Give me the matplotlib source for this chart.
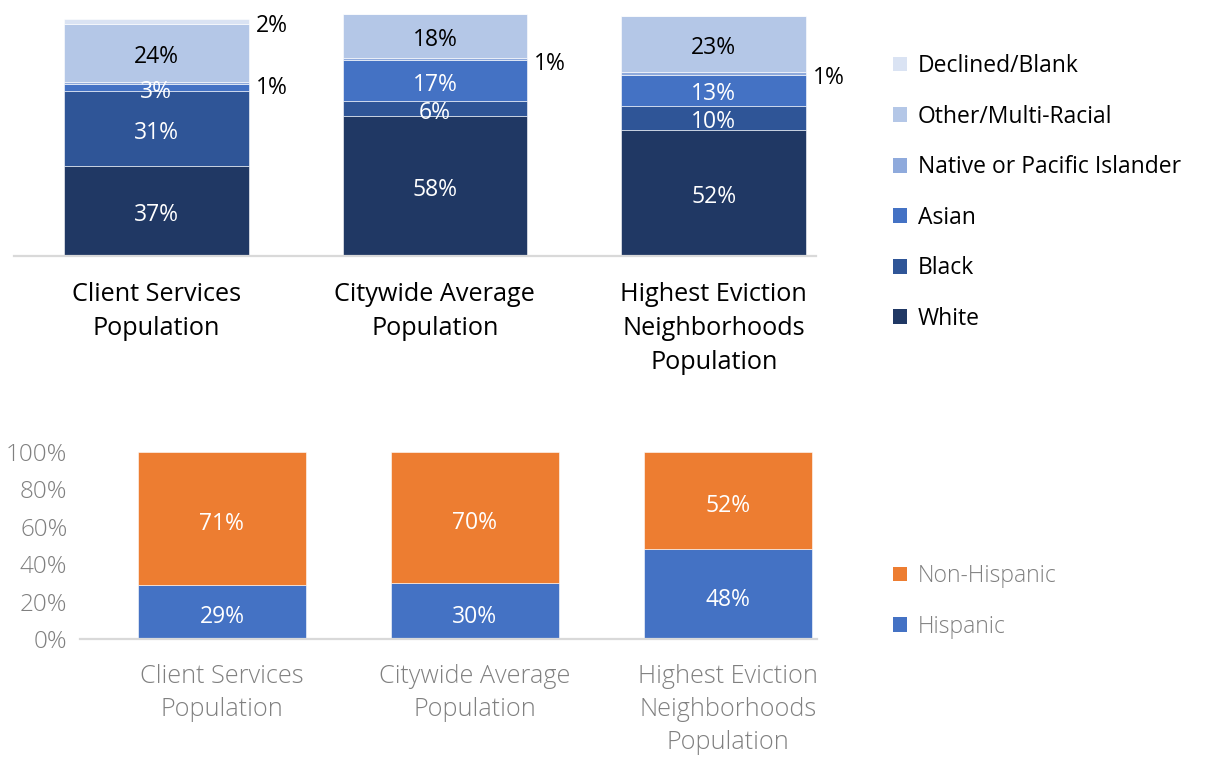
import matplotlib
matplotlib.use("Agg")
from matplotlib import pyplot as plt
from matplotlib.patches import Patch
import numpy as np

plt.rcParams['font.family'] = ['Open Sans', 'DejaVu Sans']

# categories shared by both panels
groups = ['Client Services\nPopulation', 'Citywide Average\nPopulation',
          'Highest Eviction\nNeighborhoods\nPopulation']

# race breakdown (percent), stacked bottom to top
race_names = ['White', 'Black', 'Asian', 'Native or Pacific Islander',
              'Other/Multi-Racial', 'Declined/Blank']
white = [37, 58, 52]
black = [31, 6, 10]
asian = [3, 17, 13]
native = [1, 1, 1]
other = [24, 18, 23]
declined = [2, 0, 0]

# ethnicity breakdown (percent)
eth_names = ['Hispanic', 'Non-Hispanic']
hispanic = [29, 30, 48]
non_hispanic = [71, 70, 52]

race_cols = ['#203864', '#2F5597', '#4472C4', '#8FAADC', '#B4C7E7', '#DAE3F3']
# label colour per series; None -> label sits outside the bar on the right
race_txt = ['white', 'white', 'white', None, 'black', None]
eth_cols = ['#4472C4', '#ED7D31']

W, H = 1211, 757
fig = plt.figure(figsize=(W / 100, H / 100), dpi=100)

x = np.arange(len(groups))
fs = 16.5      # data labels and legend
fs_cat = 18.2  # category labels
fs_tick = 17.5
grey = '#808080'


def label(ax, xv, yv, txt, color, ha='center', dx=0, dy=-3):
    ax.annotate(txt, (xv, yv), xytext=(dx, dy), textcoords='offset points',
                ha=ha, va='center', fontsize=fs, color=color)


# ---- top panel: race ----
ax1 = fig.add_axes([14 / W, 1 - 256 / H, (816 - 14) / W, (256 - 14) / H])
bw1 = 0.663
bottom = np.zeros(len(groups))
series = [white, black, asian, native, other, declined]
for vals, col, tc in zip(series, race_cols, race_txt):
    vals = np.array(vals, dtype=float)
    ax1.bar(x, vals, bw1, bottom=bottom, color=col, edgecolor='white', linewidth=0.4)
    for i, v in enumerate(vals):
        if v <= 0:
            continue
        yc = bottom[i] + v / 2
        if tc is None:
            label(ax1, x[i] + bw1 / 2, yc, f'{v:.0f}%', 'black', ha='left', dx=5, dy=-3.5)
        else:
            label(ax1, x[i], yc, f'{v:.0f}%', tc)
    bottom += vals

ax1.set_xlim(-0.51, 2.367)
ax1.set_ylim(0, 100)
ax1.set_yticks([])
ax1.set_xticks(x)
ax1.set_xticklabels(groups, fontsize=fs_cat, color='black', linespacing=1.47)
ax1.tick_params(axis='x', length=0, pad=19)
for s in ['top', 'right', 'left']:
    ax1.spines[s].set_visible(False)
ax1.spines['bottom'].set_color('#d9d9d9')
ax1.spines['bottom'].set_linewidth(1.6)

h1 = [Patch(facecolor=c) for c in race_cols][::-1]
fig.legend(h1, race_names[::-1], loc='upper left', bbox_to_anchor=(893 / W, 1 - 54 / H),
           frameon=False, fontsize=fs, handlelength=0.62, handleheight=0.62,
           handletextpad=0.45, labelspacing=1.16, borderpad=0, borderaxespad=0)

# ---- bottom panel: ethnicity ----
ax2 = fig.add_axes([80 / W, 1 - 639 / H, (817 - 80) / W, (639 - 452) / H])
bw2 = 0.664
bottom = np.zeros(len(groups))
for vals, col in zip([hispanic, non_hispanic], eth_cols):
    vals = np.array(vals, dtype=float)
    ax2.bar(x, vals, bw2, bottom=bottom, color=col, edgecolor='white', linewidth=0.4)
    for i, v in enumerate(vals):
        label(ax2, x[i], bottom[i] + v / 2, f'{v:.0f}%', 'white', dy=-4)
    bottom += vals

ax2.set_xlim(-0.561, 2.352)
ax2.set_ylim(0, 100)
ax2.set_yticks(np.arange(0, 101, 20))
ax2.set_yticklabels([f'{v}%' for v in range(0, 101, 20)], fontsize=fs_tick, color=grey,
                    fontweight='light')
ax2.set_xticks(x)
ax2.set_xticklabels(groups, fontsize=fs_cat, color=grey, fontweight='light', linespacing=1.42)
ax2.tick_params(axis='x', length=0, pad=18)
ax2.tick_params(axis='y', length=0, pad=9)
for s in ['top', 'right', 'left']:
    ax2.spines[s].set_visible(False)
ax2.spines['bottom'].set_color('#d9d9d9')
ax2.spines['bottom'].set_linewidth(1.6)

h2 = [Patch(facecolor=c) for c in eth_cols][::-1]
leg2 = fig.legend(h2, eth_names[::-1], loc='upper left', bbox_to_anchor=(893 / W, 1 - 564 / H),
                  frameon=False, fontsize=fs, handlelength=0.62, handleheight=0.62,
                  handletextpad=0.45, labelspacing=1.16, borderpad=0, borderaxespad=0)
for t in leg2.get_texts():
    t.set_color(grey)
    t.set_fontweight('light')

fig.savefig('out.png', dpi=100)
